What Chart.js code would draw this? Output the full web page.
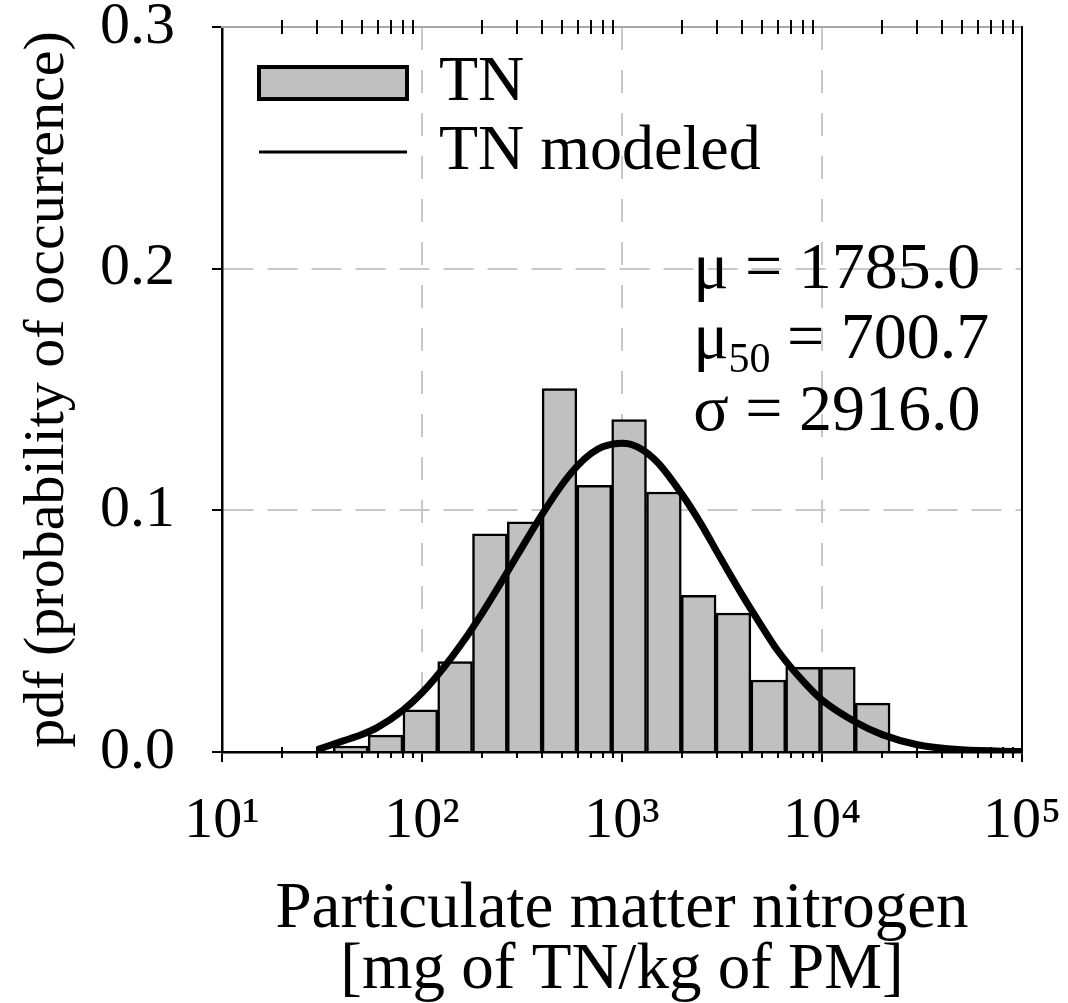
<!DOCTYPE html>
<html>
<head>
<meta charset="utf-8">
<script src="https://cdn.jsdelivr.net/npm/chart.js@4.4.0/dist/chart.umd.min.js"></script>
<style>
  html, body { margin: 0; padding: 0; background: #ffffff; }
  #wrap { width: 1068px; height: 1003px; position: relative; }
</style>
</head>
<body>
<div id="wrap"><canvas id="c"></canvas></div>
<script>
// ---- data ----
const binCenters = [44.0, 65.7, 98.1, 146.4, 218.5, 326.2, 486.9, 726.8, 1085, 1620, 2418, 3610, 5388, 8043, 12007, 17923];
const binPdf     = [0.0025, 0.0070, 0.0174, 0.0374, 0.0903, 0.0952, 0.1504, 0.1103, 0.1376, 0.1076, 0.0648, 0.0575, 0.0298, 0.0350, 0.0350, 0.0202];

const modelX   = [30, 40, 50, 60, 80, 100, 130, 160, 200, 250, 300, 400, 500, 600, 700, 800, 1000, 1200, 1500, 2000, 2500, 3000, 4000, 5000, 6000, 8000, 10000, 15000, 20000, 30000, 50000, 100000];
const modelPdf = [0.0010, 0.0045, 0.0072, 0.0102, 0.0172, 0.0245, 0.0355, 0.0455, 0.0575, 0.0705, 0.0815, 0.0985, 0.1105, 0.1185, 0.1235, 0.1263, 0.1278, 0.1262, 0.1200, 0.1065, 0.0940, 0.0825, 0.0648, 0.0520, 0.0420, 0.0295, 0.0215, 0.0120, 0.0072, 0.0030, 0.0009, 0.0002];

const xMajorTicks = [10, 100, 1000, 10000, 100000];
const xTickLabels = ['10\u00B9', '10\u00B2', '10\u00B3', '10\u2074', '10\u2075'];
const xMinorTicks = [20, 30, 40, 50, 60, 70, 80, 90,
                     200, 300, 400, 500, 600, 700, 800, 900,
                     2000, 3000, 4000, 5000, 6000, 7000, 8000, 9000,
                     20000, 30000, 40000, 50000, 60000, 70000, 80000, 90000];
const yTicks = [0, 0.1, 0.2, 0.3];

const seriesNames = ['TN', 'TN modeled'];
const statSymbols = ['\u03BC', '\u03BC', '\u03C3'];
const statSubs    = ['', '50', ''];
const statValues  = ['1785.0', '700.7', '2916.0'];

const xTitle = ['Particulate matter nitrogen', '[mg of TN/kg of PM]'];
const yTitle = 'pdf (probability of occurrence)';

// ---- styling ----
const serif = '"Liberation Serif", "Times New Roman", "DejaVu Serif", serif';
const gridGray = '#c8c8c8';

const legendPlace = {
  id: 'legendPlace',
  afterLayout(chart) {
    const lg = chart.legend, a = chart.chartArea;
    if (!lg) return;
    lg.left = a.left + 32;
    lg.top = a.top + 19;
    lg.bottom = a.bottom;
  }
};

const extraTicks = {
  id: 'extraTicks',
  beforeDatasetsDraw(chart) {
    const {ctx, chartArea: a} = chart;
    const xs = chart.scales.x;
    ctx.save();
    ctx.strokeStyle = '#000';
    ctx.lineWidth = 2;
    ctx.beginPath();
    xMinorTicks.forEach(v => {
      const px = Math.round(xs.getPixelForValue(v));
      ctx.moveTo(px, a.bottom - 5); ctx.lineTo(px, a.bottom + 6);
      ctx.moveTo(px, a.top - 7); ctx.lineTo(px, a.top + 7);
    });
    xMajorTicks.forEach(v => {
      const px = Math.round(xs.getPixelForValue(v));
      ctx.moveTo(px, a.bottom - 5); ctx.lineTo(px, a.bottom);
    });
    ctx.stroke();
    ctx.restore();
  }
};

const statsText = {
  id: 'statsText',
  afterDraw(chart) {
    const {ctx, chartArea: a} = chart;
    const w = a.right - a.left, h = a.bottom - a.top;
    const x0 = a.left + 0.589 * w;
    const baselines = [a.top + 0.360 * h, a.top + 0.4566 * h, a.top + 0.556 * h];
    ctx.save();
    ctx.fillStyle = '#000';
    ctx.textAlign = 'left';
    ctx.textBaseline = 'alphabetic';
    const big = '66px ' + serif, small = '42px ' + serif;
    for (let i = 0; i < statSymbols.length; i++) {
      let x = x0;
      const y = baselines[i];
      ctx.font = big;
      ctx.fillText(statSymbols[i], x, y);
      x += ctx.measureText(statSymbols[i]).width;
      if (statSubs[i]) {
        ctx.font = small;
        ctx.fillText(statSubs[i], x, y + 14);
        x += ctx.measureText(statSubs[i]).width;
        ctx.font = big;
      }
      ctx.fillText(' = ' + statValues[i], x, y);
    }
    ctx.restore();
  }
};

const ctx = document.getElementById('c').getContext('2d');
new Chart(ctx, {
  type: 'bar',
  data: {
    datasets: [
      {
        type: 'bar',
        label: seriesNames[0],
        data: binCenters.map((x, i) => ({x: x, y: binPdf[i]})),
        backgroundColor: '#c0c0c0',
        borderColor: '#000000',
        borderWidth: 2.5,
        barPercentage: 1.0,
        categoryPercentage: 1.0,
        order: 1,
        xAxisID: 'x',
        yAxisID: 'y'
      },
      {
        type: 'line',
        label: seriesNames[1],
        data: modelX.map((x, i) => ({x: x, y: modelPdf[i]})),
        borderColor: '#000000',
        backgroundColor: '#000000',
        borderWidth: 7,
        pointRadius: 0,
        fill: false,
        cubicInterpolationMode: 'monotone',
        order: 0,
        xAxisID: 'x',
        yAxisID: 'y'
      }
    ]
  },
  options: {
    responsive: true,
    maintainAspectRatio: false,
    animation: false,
    events: [],
    devicePixelRatio: 1,
    layout: { padding: { top: 27, right: 46, left: 0, bottom: 0 } },
    plugins: {
      tooltip: { enabled: false },
      legend: {
        display: true,
        position: 'chartArea',
        align: 'start',
        labels: {
          usePointStyle: true,
          pointStyleWidth: 148,
          boxWidth: 148,
          boxHeight: 32,
          padding: 5,
          color: '#000',
          font: { family: serif, size: 64 },
          generateLabels(chart) {
            const items = Chart.defaults.plugins.legend.labels.generateLabels(chart);
            items.sort((p, q) => p.datasetIndex - q.datasetIndex);
            items.forEach(it => {
              if (it.datasetIndex === 0) {
                it.pointStyle = 'rect'; it.fillStyle = '#c0c0c0'; it.strokeStyle = '#000'; it.lineWidth = 4;
              } else {
                it.pointStyle = 'line'; it.strokeStyle = '#000'; it.fillStyle = '#000'; it.lineWidth = 3;
              }
            });
            return items;
          }
        }
      }
    },
    scales: {
      x: {
        type: 'logarithmic',
        position: 'bottom',
        min: 10,
        max: 100000,
        offset: false,
        afterBuildTicks(s) { s.ticks = xMajorTicks.map(v => ({value: v, major: true})); },
        afterFit(s) { s.height = 251; s.paddingLeft = 0; s.paddingRight = 0; },
        ticks: {
          autoSkip: false,
          maxRotation: 0,
          padding: 25,
          color: '#000',
          font: { family: serif, size: 58, lineHeight: 1.2 },
          callback: (v, i) => xTickLabels[i]
        },
        grid: {
          offset: false,
          color: c => (c.tick && c.tick.value > 10 && c.tick.value < 100000) ? gridGray : 'rgba(0,0,0,0)',
          lineWidth: 2,
          drawTicks: true,
          tickLength: 10,
          tickColor: '#000',
          tickWidth: 2
        },
        border: { display: true, color: '#000', width: 2.5, dash: [23, 20] },
        title: {
          display: true,
          text: xTitle,
          color: '#000',
          font: { family: serif, size: 65, lineHeight: 0.93 },
          padding: { top: 0, bottom: 2 }
        }
      },
      y: {
        type: 'linear',
        position: 'left',
        min: 0,
        max: 0.3,
        afterBuildTicks(s) { s.ticks = yTicks.map(v => ({value: v})); },
        afterFit(s) { s.width = 222; s.paddingTop = 0; s.paddingBottom = 0; },
        ticks: {
          padding: 37,
          color: '#000',
          font: { family: serif, size: 60, lineHeight: 1.0 },
          callback: v => Number(v).toFixed(1)
        },
        grid: {
          offset: false,
          color: c => (c.tick && c.tick.value > 0.05 && c.tick.value < 0.25) ? gridGray : 'rgba(0,0,0,0)',
          lineWidth: 2,
          drawTicks: true,
          tickLength: 10,
          tickColor: '#000',
          tickWidth: 2
        },
        border: { display: true, color: '#000', width: 2.5, dash: [30, 14] },
        title: {
          display: true,
          text: yTitle,
          color: '#000',
          font: { family: serif, size: 58, lineHeight: 1.0 },
          padding: { top: 19, bottom: 0 }
        }
      },
      x2: {
        type: 'logarithmic',
        position: 'top',
        min: 10,
        max: 100000,
        afterFit(s) { s.height = 0; s.paddingLeft = 0; s.paddingRight = 0; },
        ticks: { display: false },
        grid: { display: true, offset: false, drawOnChartArea: false, drawTicks: false, color: 'rgba(0,0,0,0)' },
        border: { display: true, color: '#a8a8a8', width: 2 }
      },
      y2: {
        type: 'linear',
        position: 'right',
        min: 0,
        max: 0.3,
        afterFit(s) { s.width = 0; s.paddingTop = 0; s.paddingBottom = 0; },
        ticks: { display: false },
        grid: { display: true, offset: false, drawOnChartArea: false, drawTicks: false, color: 'rgba(0,0,0,0)' },
        border: { display: true, color: '#000', width: 2 }
      }
    }
  },
  plugins: [legendPlace, extraTicks, statsText]
});
</script>
</body>
</html>
